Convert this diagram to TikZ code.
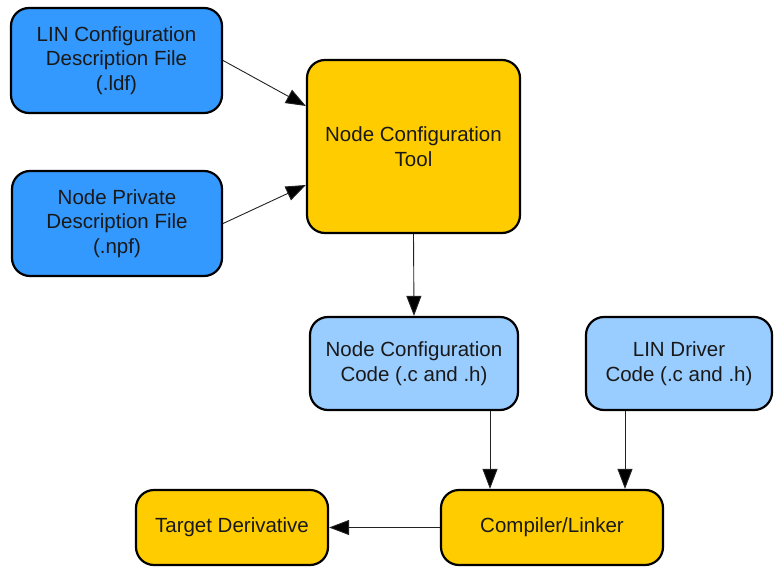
\documentclass[tikz,border=0pt]{standalone}
\usepackage{fontspec}
\setmainfont{Liberation Sans}
\usetikzlibrary{arrows.meta}
\definecolor{bluebox}{HTML}{3399FF}
\definecolor{lightbox}{HTML}{99CCFF}
\definecolor{yellowbox}{HTML}{FFCC00}
\definecolor{arrline}{HTML}{222222}
\tikzset{
  box/.style={draw=black, line width=2.2pt, rounded corners=18pt, inner sep=0pt,
    align=center, font=\fontsize{20.5}{24.5}\selectfont, text=black!90},
  bluenode/.style={box, fill=bluebox},
  lightnode/.style={box, fill=lightbox},
  yellownode/.style={box, fill=yellowbox},
  arr/.style={draw=arrline, line width=0.9pt, -{Triangle[length=20pt,width=15pt,fill=black]}}
}
\begin{document}
\begin{tikzpicture}[x=1pt,y=-1pt]
\useasboundingbox (0,0) rectangle (774,567);
\node[bluenode, minimum width=211pt, minimum height=105pt] (ldf) at (116.5,60.5)
  {LIN Configuration\\Description File\\(.ldf)};
\node[bluenode, minimum width=210pt, minimum height=105pt] (npf) at (117,223.5)
  {Node Private\\Description File\\(.npf)};
\node[yellownode, minimum width=213pt, minimum height=173pt] (tool) at (413.5,146.5)
  {Node Configuration\\Tool};
\node[lightnode, minimum width=208pt, minimum height=93pt] (ncc) at (414,363.5)
  {Node Configuration\\Code (.c and .h)};
\node[lightnode, minimum width=186pt, minimum height=93pt] (drv) at (679,363.5)
  {LIN Driver\\Code (.c and .h)};
\node[yellownode, minimum width=192pt, minimum height=75pt] (tgt) at (232,527.5)
  {Target Derivative};
\node[yellownode, minimum width=222pt, minimum height=75pt] (cmp) at (552,527.5)
  {Compiler/Linker};
\draw[arr] (ldf.east) -- ([yshift=40.5pt]tool.west);
\draw[arr] (npf.east) -- ([yshift=-38.5pt]tool.west);
\draw[arr] (tool.south) -- (ncc.north);
\draw[arr] ([xshift=76pt]ncc.south) -- ([xshift=76pt]ncc.south |- cmp.north);
\draw[arr] ([xshift=-54pt]drv.south) -- ([xshift=-54pt]drv.south |- cmp.north);
\draw[arr] (cmp.west) -- (tgt.east);
\end{tikzpicture}
\end{document}
